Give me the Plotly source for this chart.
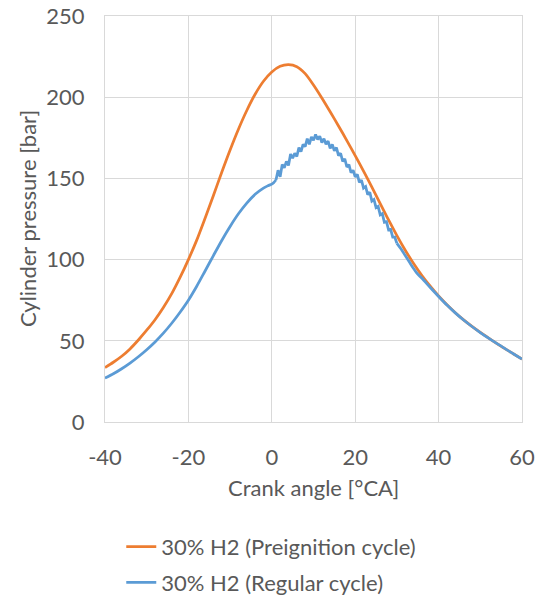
import plotly.graph_objects as go

# Preignition cycle (orange)
pre_x = [-40, -38, -36, -34, -32, -30, -28, -26, -24, -22, -20, -18, -16, -14, -12, -10, -8, -6, -4, -2,
         0, 2, 4, 6, 8, 10, 12, 14, 16, 18, 20, 22, 24, 26, 28, 30, 32, 34, 36, 38, 40,
         42, 44, 46, 48, 50, 52, 54, 56, 58, 60]
pre_p = [33.5, 36.8, 40.5, 45, 50.5, 56.5, 63, 70.5, 79, 89, 100, 112, 125.5, 139.5, 153.8, 167.5, 180.3, 191.8, 201.8, 209.8,
         215.5, 219, 220, 218.8, 214.5, 207.5, 199.5, 191, 182.3, 173.3, 164, 154.5, 144.6, 134.5, 124.4, 114.8, 105.8, 97.6, 90.2, 83.6, 77.6,
         72.2, 67.3, 62.9, 58.9, 55.2, 51.7, 48.3, 45, 41.9, 38.8]

# Regular cycle (blue)
reg_x = [-40, -38, -36, -34, -32, -30, -28, -26, -24, -22, -20, -18, -16, -14, -12, -10, -8, -6, -4, -2,
         -1, 0, 0.5,
         1.0, 1.5, 2.0, 2.5, 3.0, 3.5, 4.0, 4.5, 5.0, 5.5, 6.0, 6.5, 7.0, 7.5, 8.0, 8.5, 9.0, 9.5,
         10.0, 10.5, 11.0, 11.5, 12.0, 12.5, 13.0, 13.5, 14.0, 14.5, 15.0, 15.5, 16.0, 16.5, 17.0,
         17.5, 18.0, 18.5, 19.0, 19.5, 20.0, 20.5, 21.0, 21.5, 22.0, 22.5, 23.0, 23.5, 24.0, 24.5,
         25.0, 25.5, 26.0, 26.5, 27.0, 27.5, 28.0, 28.5, 29.0, 29.5, 30.0,
         31, 32, 33, 34, 35, 36, 38, 40, 42, 44, 46, 48, 50, 52, 54, 56, 58, 60]
reg_p = [27, 29.7, 32.8, 36.3, 40.2, 44.5, 49.3, 54.7, 60.8, 67.6, 75, 83.6, 93, 102.5, 111.8, 120.4, 128.2, 134.8, 140.2, 144,
         145.4, 146.5, 147.5,
         149, 155, 151, 158.5, 156.5, 160.5, 158, 165, 162.5, 165.5, 163.5, 169, 166.5, 171, 169.5, 174.5, 171, 175.5,
         173.5, 177, 174, 176, 172, 174.5, 171, 173, 168.5, 171, 167, 169, 164, 165.5, 160.5,
         162, 157, 158.5, 153.5, 155, 151, 152.5, 147.5, 149, 144, 145, 140, 141.5, 136, 137,
         132, 132.8, 127.5, 128.3, 123, 123.3, 118.3, 118.6, 113.8, 113.8, 110,
         106.5, 102.5, 98.5, 94.5, 91, 88.5, 82.8, 77.3, 72, 67.2, 62.8, 58.8, 55.1, 51.6, 48.3, 45, 41.9, 38.8]

x_ticks = [-40, -20, 0, 20, 40, 60]
x_labels = ["-40", "-20", "0", "20", "40", "60"]
y_ticks = [0, 50, 100, 150, 200, 250]
y_labels = ["0", "50", "100", "150", "200", "250"]

ORANGE = "#ED7D31"
BLUE = "#5B9BD5"
GRID = "#D9D9D9"
TXT = "#595959"
FONT = "Lato"
FS = 22

# split the regular-cycle curve: smooth compression, noisy combustion part, smooth expansion tail
i_a = reg_x.index(1.0)
i_b = reg_x.index(30.0)

fig = go.Figure()
fig.add_trace(go.Scatter(x=pre_x, y=pre_p, mode="lines", name="30% H2 (Preignition cycle)",
                         legendgroup="a",
                         line=dict(color=ORANGE, width=2.75, shape="spline", smoothing=0.8)))
fig.add_trace(go.Scatter(x=reg_x[:i_a + 1], y=reg_p[:i_a + 1], mode="lines", name="30% H2 (Regular cycle)",
                         legendgroup="b",
                         line=dict(color=BLUE, width=2.75, shape="spline", smoothing=0.8)))
fig.add_trace(go.Scatter(x=reg_x[i_a:i_b + 1], y=reg_p[i_a:i_b + 1], mode="lines", name="30% H2 (Regular cycle)",
                         legendgroup="b", showlegend=False,
                         line=dict(color=BLUE, width=2.75)))
fig.add_trace(go.Scatter(x=reg_x[i_b:], y=reg_p[i_b:], mode="lines", name="30% H2 (Regular cycle)",
                         legendgroup="b", showlegend=False,
                         line=dict(color=BLUE, width=2.75, shape="spline", smoothing=0.8)))

fig.update_layout(
    width=541, height=600,
    margin=dict(l=105, r=19, t=16, b=178, autoexpand=False),
    paper_bgcolor="white", plot_bgcolor="white",
    font=dict(family=FONT, size=FS, color=TXT),
    showlegend=True,
    legend=dict(x=0.039, y=-0.256, xanchor="left", yanchor="top",
                orientation="v", font=dict(family=FONT, size=FS, color=TXT),
                itemwidth=30, tracegroupgap=4),
    annotations=[
        dict(text="Crank angle [°CA]", xref="paper", yref="paper", x=0.5, y=-0.161,
             xanchor="center", yanchor="middle", showarrow=False,
             font=dict(family=FONT, size=FS, color=TXT)),
        dict(text="Cylinder pressure [bar]", xref="paper", yref="paper", x=-0.187, y=0.5,
             xanchor="center", yanchor="middle", showarrow=False, textangle=-90,
             font=dict(family=FONT, size=FS, color=TXT)),
    ],
)
fig.update_xaxes(range=[-40, 60], tickmode="array", tickvals=x_ticks, ticktext=x_labels,
                 automargin=False, ticklabeloverflow="allow",
                 showgrid=True, gridcolor=GRID, gridwidth=1,
                 zeroline=True, zerolinecolor=GRID, zerolinewidth=1,
                 showline=True, linecolor=GRID, mirror=True,
                 ticks="", ticklabelstandoff=16)
fig.update_yaxes(range=[0, 250], tickmode="array", tickvals=y_ticks, ticktext=y_labels,
                 automargin=False, ticklabeloverflow="allow",
                 showgrid=True, gridcolor=GRID, gridwidth=1,
                 zeroline=False,
                 showline=True, linecolor=GRID, mirror=True,
                 ticks="", ticklabelstandoff=15)

# remove the default 8px page margin so the 541x600 figure fills the window exactly
fig.write_html("out.html", config={"displayModeBar": False},
               post_script="document.body.style.margin='0';")
